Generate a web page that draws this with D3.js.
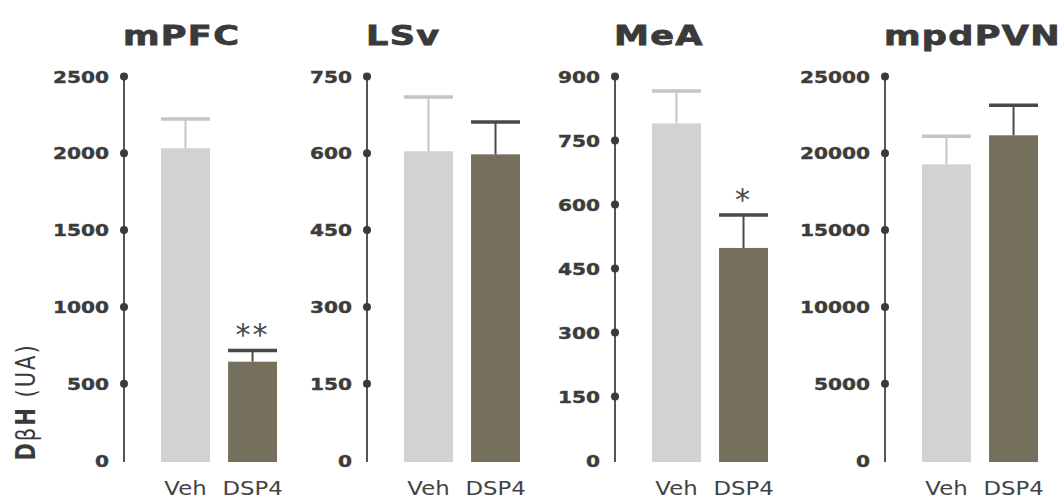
<!DOCTYPE html>
<html>
<head>
<meta charset="utf-8">
<script src="https://cdn.jsdelivr.net/npm/d3@7"></script>
<style>
  body { margin: 0; background: #fff; }
  svg { display: block; }
</style>
</head>
<body>
<svg width="1061" height="499"></svg>
<script>
// data
const regions = ["mPFC", "LSv", "MeA", "mpdPVN"];
const groups = ["Veh", "DSP4"];
const yMax = [2500, 750, 900, 25000];
const tickStep = [500, 150, 150, 5000];
const vehMean = [2030, 603, 789, 19250];
const vehErr = [190, 106, 76, 1820];
const dspMean = [640, 597, 497, 21140];
const dspErr = [73, 63, 77, 1960];
const signif = ["**", "", "*", ""];

const svg = d3.select("svg");

// where each panel's axis sits
const axisX = [124, 367, 615, 885];
const plotTop = 76, plotBottom = 460;
const sx = 1.22; // the figure's lettering is stretched sideways

const barFill = { Veh: "#d3d1d1", DSP4: "#756f5e" };
const errColor = { Veh: "#c6c4c4", DSP4: "#4b4942" };

regions.forEach(function(name, i) {
  const g = svg.append("g").attr("transform", `translate(${axisX[i]},0)`);

  const y = d3.scaleLinear().domain([0, yMax[i]]).range([plotBottom, plotTop]);
  const x = d3.scaleBand().domain(groups).range([37, 153]).paddingInner(0.27);

  const ticks = d3.range(0, yMax[i] + 1, tickStep[i]);

  // axis
  const ax = g.append("g")
    .call(d3.axisLeft(y).tickValues(ticks).tickSize(0).tickSizeOuter(0).tickPadding(0).tickFormat(d3.format("d")));
  ax.select(".domain").attr("stroke", "#555").attr("stroke-width", 2).attr("d", `M0,${plotTop}V${plotBottom + 2}`);
  ax.selectAll(".tick text")
    .attr("x", -15 / sx)
    .attr("dy", "0.37em")
    .attr("transform", `scale(${sx},1)`)
    .style("font-family", "'DejaVu Sans', sans-serif")
    .style("font-weight", "bold")
    .style("font-size", "16.5px")
    .attr("fill", "#3c3c3c")
    .attr("stroke", "#3c3c3c")
    .attr("stroke-width", 0.4);
  ax.selectAll(".tick")
    .filter(d => d > 0)
    .append("circle")
    .attr("r", 4)
    .attr("fill", "#3a3a3a");

  // title
  g.append("text")
    .attr("transform", `translate(-1,45) scale(1.3,1)`)
    .style("font-family", "'DejaVu Sans', sans-serif")
    .style("font-weight", "bold")
    .style("font-size", "27px")
    .style("letter-spacing", "1px")
    .attr("fill", "#3a3a3a")
    .attr("stroke", "#3a3a3a")
    .attr("stroke-width", 0.8)
    .text(name);

  const rows = [
    { grp: "Veh", mean: vehMean[i], err: vehErr[i] },
    { grp: "DSP4", mean: dspMean[i], err: dspErr[i] }
  ];

  // bars
  g.selectAll("rect.bar")
    .data(rows)
    .join("rect")
    .attr("class", "bar")
    .attr("x", d => x(d.grp))
    .attr("y", d => y(d.mean))
    .attr("width", x.bandwidth())
    .attr("height", d => y(0) - y(d.mean) + 2)
    .attr("fill", d => barFill[d.grp]);

  // error bars (upper only)
  g.selectAll("line.err")
    .data(rows)
    .join("line")
    .attr("class", "err")
    .attr("x1", d => x(d.grp) + x.bandwidth() / 2)
    .attr("x2", d => x(d.grp) + x.bandwidth() / 2)
    .attr("y1", d => y(d.mean))
    .attr("y2", d => y(d.mean + d.err))
    .attr("stroke", d => errColor[d.grp])
    .attr("stroke-width", 2);
  g.selectAll("line.cap")
    .data(rows)
    .join("line")
    .attr("class", "cap")
    .attr("x1", d => x(d.grp))
    .attr("x2", d => x(d.grp) + x.bandwidth())
    .attr("y1", d => y(d.mean + d.err))
    .attr("y2", d => y(d.mean + d.err))
    .attr("stroke", d => errColor[d.grp])
    .attr("stroke-width", 3.5);

  // significance stars
  if (signif[i]) {
    g.append("text")
      .attr("x", x("DSP4") + x.bandwidth() / 2)
      .attr("y", y(dspMean[i] + dspErr[i]) - 5)
      .attr("text-anchor", "middle")
      .style("font-family", "'DejaVu Sans', sans-serif")
      .style("font-size", "30px")
      .style("letter-spacing", "2px")
      .attr("fill", "#4a4a4a")
      .text(signif[i]);
  }

  // group labels
  g.selectAll("text.grp")
    .data(groups)
    .join("text")
    .attr("class", "grp")
    .attr("transform", d => `translate(${x(d) + x.bandwidth() / 2},495) scale(1.2,1)`)
    .attr("text-anchor", "middle")
    .style("font-family", "'DejaVu Sans', sans-serif")
    .style("font-size", "19px")
    .attr("fill", "#444")
    .text(d => d);
});

// y axis title
const yt = svg.append("text")
  .attr("transform", "translate(35,402) rotate(-90) scale(1,1.25)")
  .attr("text-anchor", "middle")
  .style("font-family", "'DejaVu Sans', sans-serif")
  .style("font-size", "21px")
  .style("letter-spacing", "2px")
  .attr("fill", "#3a3a3a");
yt.append("tspan").style("font-weight", "bold").text("D");
yt.append("tspan").text("β");
yt.append("tspan").style("font-weight", "bold").text("H");
yt.append("tspan").text(" (UA)");
</script>
</body>
</html>
